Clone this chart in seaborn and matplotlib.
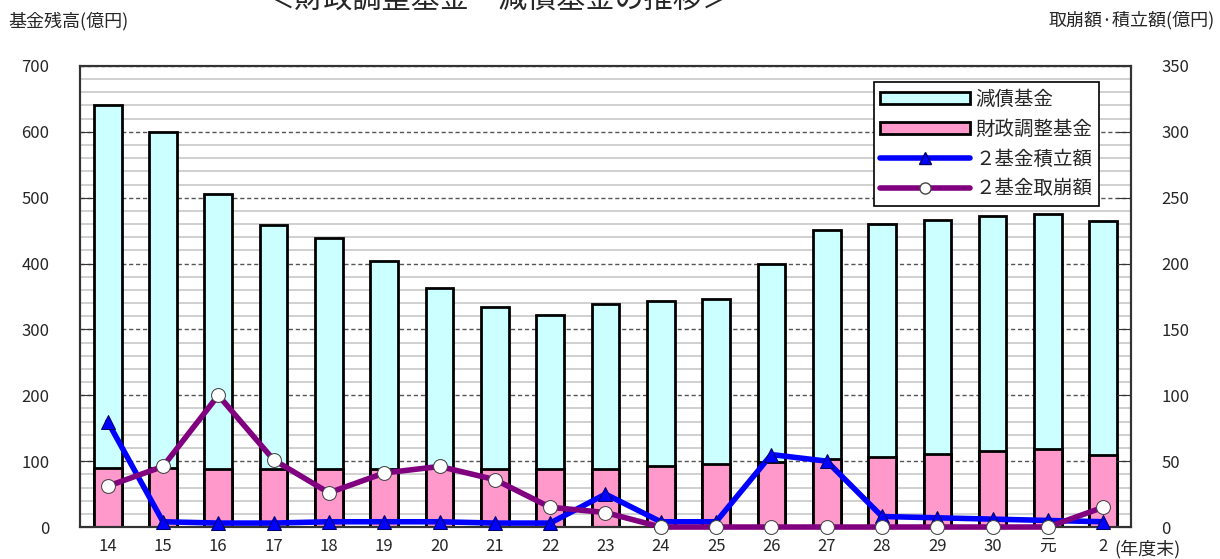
import numpy as np
import pandas as pd
import seaborn as sns
import matplotlib
matplotlib.use('Agg')
import matplotlib.pyplot as plt
from matplotlib.patches import Patch
from matplotlib.lines import Line2D

# データ（年度末）
years = ['14', '15', '16', '17', '18', '19', '20', '21', '22', '23',
         '24', '25', '26', '27', '28', '29', '30', '元', '2']
# 財政調整基金（億円）
zaisei = [89, 90, 88, 88, 88, 88, 90, 88, 88, 88,
          92, 96, 99, 104, 107, 111, 115, 119, 109]
# 減債基金（億円）
gensai = [551, 510, 417, 370, 351, 316, 273, 246, 234, 250,
          251, 250, 300, 347, 353, 355, 357, 356, 356]
# ２基金積立額（億円）
tsumitate = [80, 4, 3, 3, 4, 4, 4, 3, 3, 25,
             4, 4, 55, 50, 8, 7, 6, 5, 4]
# ２基金取崩額（億円）
torikuzushi = [31, 46, 100, 51, 26, 41, 46, 36, 15, 11,
               0, 0, 0, 0, 0, 0, 0, 0, 15]

df = pd.DataFrame({'year': years, 'zaisei': zaisei, 'gensai': gensai,
                   'tsumitate': tsumitate, 'torikuzushi': torikuzushi})
df['total'] = df['zaisei'] + df['gensai']
df['pos'] = np.arange(len(df))

sns.set_style('white')
plt.rcParams['font.family'] = ['Noto Sans CJK JP', 'DejaVu Sans']

fig = plt.figure(figsize=(12.2, 5.59), dpi=100)
ax = fig.add_axes([0.0656, 0.0572, 0.8614, 0.8248])

cyan = '#ccffff'
pink = '#ff99cc'

# 積み上げ棒（合計を先に、財政調整基金を重ねる）
sns.barplot(data=df, x='year', y='total', color=cyan, edgecolor='black',
            linewidth=2, width=0.5, saturation=1, ax=ax, zorder=2)
sns.barplot(data=df, x='year', y='zaisei', color=pink, edgecolor='black',
            linewidth=2, width=0.5, saturation=1, ax=ax, zorder=2)

ax.set_xlim(-0.5, len(df) - 0.5)
ax.set_ylim(0, 700)
ax.set_yticks(np.arange(0, 701, 100))
ax.set_yticks(np.arange(0, 701, 20), minor=True)
ax.grid(which='minor', axis='y', color='#c8c8c8', linewidth=1.2, linestyle='-')
ax.grid(which='major', axis='y', color='#555555', linewidth=1, linestyle=(0, (3, 2)))
ax.set_axisbelow(True)
ax.set_xlabel('')
ax.set_ylabel('')
ax.tick_params(axis='y', which='major', direction='in', length=10, pad=22,
               labelsize=12, color='#333333')
ax.tick_params(axis='y', which='minor', length=0)
ax.tick_params(axis='x', length=0, pad=8, labelsize=12)
for s in ax.spines.values():
    s.set_color('#333333')
    s.set_linewidth(1.5)

# 右軸：積立額・取崩額
ax2 = ax.twinx()
sns.lineplot(data=df, x='pos', y='tsumitate', color='#0000ff', linewidth=4,
             marker='^', markersize=10, markerfacecolor='#0000ff',
             markeredgecolor='#000066', ax=ax2, zorder=3)
sns.lineplot(data=df, x='pos', y='torikuzushi', color='#800080', linewidth=4,
             marker='o', markersize=10, markerfacecolor='white',
             markeredgecolor='#444444', ax=ax2, zorder=4)
for ln in ax2.lines:
    ln.set_clip_on(False)
ax2.set_ylim(0, 350)
ax2.set_xlim(-0.5, len(df) - 0.5)
ax2.set_yticks(np.arange(0, 351, 50))
ax2.set_xlabel('')
ax2.set_ylabel('')
ax2.tick_params(axis='y', direction='in', length=10, pad=22, labelsize=12,
                color='#333333')
for s in ax2.spines.values():
    s.set_color('#333333')
    s.set_linewidth(1.5)

ax.set_xticks(range(len(years)))
ax.set_xticklabels(years)

# 凡例
handles = [Patch(facecolor=cyan, edgecolor='black', linewidth=2),
           Patch(facecolor=pink, edgecolor='black', linewidth=2),
           Line2D([], [], color='#0000ff', linewidth=4, marker='^', markersize=9,
                  markerfacecolor='#0000ff', markeredgecolor='#000066'),
           Line2D([], [], color='#800080', linewidth=4, marker='o', markersize=8,
                  markerfacecolor='white', markeredgecolor='#444444')]
labels = ['減債基金', '財政調整基金', '２基金積立額', '２基金取崩額']
leg = ax2.legend(handles, labels, loc='upper right', bbox_to_anchor=(0.970, 0.965),
                 fontsize=14, frameon=True, fancybox=False, edgecolor='black',
                 framealpha=1, borderpad=0.35, labelspacing=0.45,
                 handlelength=4.6, handleheight=0.6, handletextpad=0.3,
                 borderaxespad=0)
leg.get_frame().set_linewidth(1.2)
leg.set_zorder(10)

# 軸ラベル・タイトル
fig.text(0.007, 0.962, '基金残高(億円)', fontsize=13, ha='left', va='center')
fig.text(0.996, 0.964, '取崩額·積立額(億円)', fontsize=13, ha='right', va='center')
fig.text(0.409, 0.998, '＜財政調整基金・減債基金の推移＞', fontsize=21,
         ha='center', va='center')
ax.text(len(years) - 1 + 0.2, -0.028, '(年度末)', transform=ax.get_xaxis_transform(),
        fontsize=13, ha='left', va='top')

fig.savefig('out.png', dpi=100)
